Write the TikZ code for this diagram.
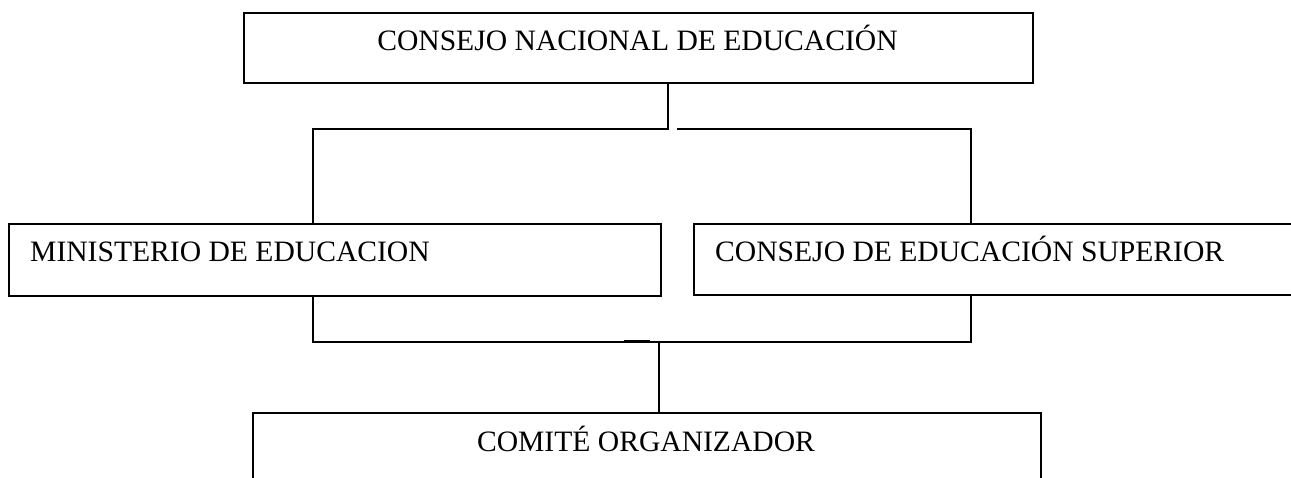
\documentclass[tikz,border=0pt]{standalone}
\usepackage{fontspec}
\setmainfont{Liberation Serif}
\begin{document}
\begin{tikzpicture}[x=1pt,y=-1pt,
  box/.style={draw, line width=2pt, inner sep=0pt, anchor=north west},
  lbl/.style={anchor=base, inner sep=0pt, font=\fontsize{29.6}{34}\selectfont},
  lblw/.style={anchor=base west, inner sep=0pt, font=\fontsize{29.6}{34}\selectfont},
  conn/.style={line width=1.7pt}]
\useasboundingbox (0,0) rectangle (1291,478);
\clip (0,0) rectangle (1291,478);
% boxes
\node[box, minimum width=789pt, minimum height=70pt] (cne) at (243,12) {};
\node[box, minimum width=652pt, minimum height=72pt] (min) at (8,223) {};
\node[box, minimum width=640pt, minimum height=71pt] (ces) at (693,223) {};
\node[box, minimum width=788pt, minimum height=100pt] (com) at (252,412) {};
% labels
\node[lbl] (tcne) at (637.5,50.5) {CONSEJO NACIONAL DE EDUCACIÓN};
\node[lblw] (tmin) at (30,262) {MINISTERIO DE EDUCACION};
\node[lblw] (tces) at (715,262) {CONSEJO DE EDUCACIÓN SUPERIOR};
\node[lbl] (tcom) at (646,451.5) {COMITÉ ORGANIZADOR};
% connector bend points
\coordinate (a1) at (668,129);
\coordinate (a2) at (313,129);
\coordinate (b1) at (677,129);
\coordinate (b2) at (971,129);
\coordinate (c1) at (313,342);
\coordinate (c2) at (971,342);
\coordinate (d) at (659,342);
\coordinate (e1) at (624,341.5);
\coordinate (e2) at (650,341.5);
% connectors
\draw[conn] (cne.south -| a1) -- (a1) -- (a2) -- (a2 |- min.north);
\draw[conn] (b1) -- (b2) -- (b2 |- ces.north);
\draw[conn] (c1 |- min.south) -- (c1) -- (c2) -- (c2 |- ces.south);
\draw[conn] (d) -- (d |- com.north);
\draw[line width=2.2pt] (e1) -- (e2);
\end{tikzpicture}
\end{document}
